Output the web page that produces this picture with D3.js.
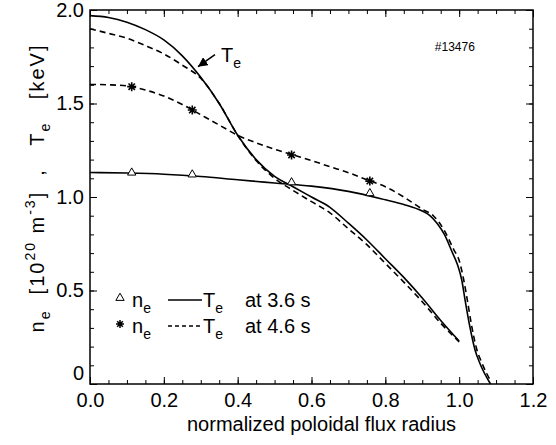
<!DOCTYPE html>
<html>
<head>
<meta charset="utf-8">
<script src="https://cdn.jsdelivr.net/npm/d3@7"></script>
<style>
  body { margin: 0; background: #fff; }
  svg text { font-family: "Liberation Sans", Arial, Helvetica, sans-serif; fill: #000; }
</style>
</head>
<body>
<div id="chart"></div>
<script>
// VARIABLES
var width = 556;
var height = 445;

// Te profiles (keV)
var teX = [0, 0.05, 0.1, 0.15, 0.2, 0.25, 0.3, 0.35, 0.4, 0.45, 0.5, 0.55, 0.6, 0.65, 0.7, 0.75, 0.8, 0.85, 0.9, 0.95, 1.0];
var te36 = [1.97, 1.96, 1.935, 1.895, 1.84, 1.755, 1.64, 1.5, 1.33, 1.2, 1.11, 1.055, 1.0, 0.945, 0.86, 0.77, 0.67, 0.57, 0.46, 0.34, 0.23];
var te46 = [1.90, 1.875, 1.849, 1.81, 1.765, 1.705, 1.635, 1.5, 1.33, 1.195, 1.1, 1.035, 0.975, 0.915, 0.83, 0.745, 0.645, 0.545, 0.44, 0.325, 0.225];

// ne profiles (10^20 m^-3)
var ne36X = [0, 0.1, 0.2, 0.3, 0.4, 0.5, 0.6, 0.7, 0.8, 0.85, 0.9, 0.92, 0.94, 0.96, 0.98, 0.995, 1.007, 1.016, 1.029, 1.043, 1.056, 1.085];
var ne36 = [1.131, 1.128, 1.122, 1.11, 1.092, 1.075, 1.058, 1.03, 0.985, 0.96, 0.925, 0.902, 0.86, 0.8, 0.71, 0.64, 0.556, 0.449, 0.306, 0.182, 0.111, 0.0];
var ne46X = [0, 0.05, 0.1, 0.15, 0.2, 0.25, 0.3, 0.35, 0.4, 0.45, 0.5, 0.55, 0.6, 0.65, 0.7, 0.75, 0.8, 0.85, 0.9, 0.93, 0.96, 0.985, 1.0, 1.012, 1.022, 1.033, 1.047, 1.06, 1.087];
var ne46 = [1.602, 1.6, 1.594, 1.572, 1.54, 1.495, 1.44, 1.385, 1.33, 1.29, 1.255, 1.225, 1.195, 1.162, 1.13, 1.092, 1.055, 1.0, 0.935, 0.9, 0.82, 0.72, 0.66, 0.56, 0.45, 0.32, 0.19, 0.12, 0.01];

// measured points (symbols)
var markX = [0.113, 0.277, 0.546, 0.758];
var triY = [1.13, 1.12, 1.078, 1.02];
var astY = [1.59, 1.465, 1.225, 1.085];

// ticks
var xTicks = [0, 0.2, 0.4, 0.6, 0.8, 1.0, 1.2];
var yTicks = [0, 0.5, 1.0, 1.5, 2.0];

var xScale = d3.scaleLinear().domain([0, 1.2]).range([90, 533]);
var yScale = d3.scaleLinear().domain([0, 2.0]).range([384, 10]);

var svg = d3.select("#chart")
      .append("svg")
      .attr("width", width)
      .attr("height", height);

svg.append("defs").append("marker")
   .attr("id", "arrow")
   .attr("viewBox", "0 0 10 10")
   .attr("refX", 10).attr("refY", 5)
   .attr("markerWidth", 6).attr("markerHeight", 6)
   .attr("markerUnits", "strokeWidth")
   .attr("orient", "auto")
   .append("path").attr("d", "M0,0L10,5L0,10z").attr("fill", "#000");

// axes (ticks inward)
var fmtX = d3.format(".1f");
var fmtY = function(d) { return d === 0 ? "0" : d3.format(".1f")(d); };

function addAxis(axis, tr, minor, vals, fmt) {
  var g = svg.append("g").attr("transform", tr)
     .call(axis.tickValues(vals).tickFormat(fmt || "").tickSizeInner(-7).tickSizeOuter(0).tickPadding(6));
  g.select(".domain").remove();
  g.selectAll("text").attr("font-size", 20);
  var g2 = svg.append("g").attr("transform", tr)
     .call(axis.tickValues(minor).tickFormat("").tickSizeInner(-4).tickSizeOuter(0));
  g2.select(".domain").remove();
  return g;
}

var xMinor = d3.range(0, 1.2001, 0.05);
var yMinor = d3.range(0, 2.0001, 0.1);

var gx = addAxis(d3.axisBottom(xScale), "translate(0,384)", xMinor, xTicks, fmtX);
addAxis(d3.axisTop(xScale), "translate(0,10)", xMinor, xTicks, null);
var gy = addAxis(d3.axisLeft(yScale), "translate(90,0)", yMinor, yTicks, fmtY);
addAxis(d3.axisRight(yScale), "translate(533,0)", yMinor, yTicks, null);

gx.selectAll("text").attr("dy", "0.85em");
// the "0" label sits a bit higher, clear of the x axis
gy.selectAll(".tick").filter(function(d) { return d === 0; }).select("text").attr("dy", "-0.25em");

svg.selectAll(".tick line").attr("stroke", "#000");

svg.append("rect")
   .attr("x", 90).attr("y", 10)
   .attr("width", 443).attr("height", 374)
   .attr("fill", "none").attr("stroke", "#000").attr("stroke-width", 1.5);

// curves
var line = d3.line()
   .x(function(d) { return xScale(d[0]); })
   .y(function(d) { return yScale(d[1]); })
   .curve(d3.curveMonotoneX);

function series(xs, ys, dash) {
  svg.append("path")
     .datum(d3.zip(xs, ys))
     .attr("d", line)
     .attr("fill", "none")
     .attr("stroke", "#000")
     .attr("stroke-width", 1.6)
     .attr("stroke-dasharray", dash);
}
series(teX, te36, null);
series(teX, te46, "6,4");
series(ne36X, ne36, null);
series(ne46X, ne46, "6,4");

// symbols
var tri = d3.symbol().type(d3.symbolTriangle).size(30);
function asterisk(r) {
  var p = d3.path();
  for (var a = 0; a < 4; a++) {
    var t = a * Math.PI / 4;
    p.moveTo(-r * Math.cos(t), -r * Math.sin(t));
    p.lineTo(r * Math.cos(t), r * Math.sin(t));
  }
  return p.toString();
}

svg.selectAll(".tri")
   .data(d3.zip(markX, triY))
   .enter().append("path")
   .attr("class", "tri")
   .attr("d", tri)
   .attr("transform", function(d) { return "translate(" + xScale(d[0]) + "," + yScale(d[1]) + ")"; })
   .attr("fill", "#fff").attr("stroke", "#000").attr("stroke-width", 1);

svg.selectAll(".ast")
   .data(d3.zip(markX, astY))
   .enter().append("path")
   .attr("class", "ast")
   .attr("d", asterisk(4.5))
   .attr("transform", function(d) { return "translate(" + xScale(d[0]) + "," + yScale(d[1]) + ")"; })
   .attr("fill", "none").attr("stroke", "#000").attr("stroke-width", 1.6);

// Te arrow annotation
var tip = [0.2925, 1.697];
svg.append("line")
   .attr("x1", xScale(tip[0]) + 17).attr("y1", yScale(tip[1]) - 12)
   .attr("x2", xScale(tip[0])).attr("y2", yScale(tip[1]))
   .attr("stroke", "#000").attr("stroke-width", 1.6)
   .attr("marker-end", "url(#arrow)");
var tl = svg.append("text")
   .attr("x", xScale(tip[0]) + 23).attr("y", yScale(tip[1]) - 5)
   .attr("font-size", 20).text("T");
tl.append("tspan").attr("font-size", 14).attr("dy", 6).text("e");

svg.append("text")
   .attr("x", xScale(0.934)).attr("y", yScale(1.80) + 4)
   .attr("font-size", 12).text("#13476");

// axis titles
svg.append("text")
   .attr("x", (90 + 533) / 2 + 10).attr("y", 431)
   .attr("text-anchor", "middle")
   .attr("font-size", 20)
   .text("normalized poloidal flux radius");

var yl = svg.append("text")
   .attr("transform", "translate(44,188) rotate(-90)")
   .attr("text-anchor", "middle")
   .attr("font-size", 20)
   .attr("letter-spacing", 2)
   .style("white-space", "pre");
yl.append("tspan").text("n");
yl.append("tspan").attr("font-size", 14).attr("dy", 6).text("e");
yl.append("tspan").attr("dy", -6).text("  [10");
yl.append("tspan").attr("font-size", 14).attr("dy", -9).text("20");
yl.append("tspan").attr("dy", 9).text(" m");
yl.append("tspan").attr("font-size", 14).attr("dy", -9).text("-3");
yl.append("tspan").attr("dy", 9).text("]  ,   T");
yl.append("tspan").attr("font-size", 14).attr("dy", 6).text("e");
yl.append("tspan").attr("dy", -6).text("   [keV]");

// legend
var legRows = [
  {sym: "tri", dash: null, time: "at 3.6 s"},
  {sym: "ast", dash: "4,3", time: "at 4.6 s"}
];
var leg = svg.selectAll(".leg")
   .data(legRows)
   .enter().append("g")
   .attr("class", "leg")
   .attr("transform", function(d, i) { return "translate(0," + (300 + i * 26) + ")"; });

leg.append("path")
   .attr("d", function(d) { return d.sym === "tri" ? tri() : asterisk(4); })
   .attr("transform", "translate(120,-2)")
   .attr("fill", function(d) { return d.sym === "tri" ? "#fff" : "none"; })
   .attr("stroke", "#000")
   .attr("stroke-width", function(d) { return d.sym === "tri" ? 1 : 1.5; });

var nt = leg.append("text").attr("x", 132).attr("y", 7).attr("font-size", 20).text("n");
nt.append("tspan").attr("font-size", 14).attr("dy", 6).text("e");

leg.append("line")
   .attr("x1", 168).attr("x2", 202).attr("y1", 0).attr("y2", 0)
   .attr("stroke", "#000").attr("stroke-width", 1.5)
   .attr("stroke-dasharray", function(d) { return d.dash; });

var tt = leg.append("text").attr("x", 203).attr("y", 7).attr("font-size", 20).text("T");
tt.append("tspan").attr("font-size", 14).attr("dy", 6).text("e");

leg.append("text").attr("x", 245).attr("y", 7).attr("font-size", 20)
   .text(function(d) { return d.time; });
</script>
</body>
</html>
